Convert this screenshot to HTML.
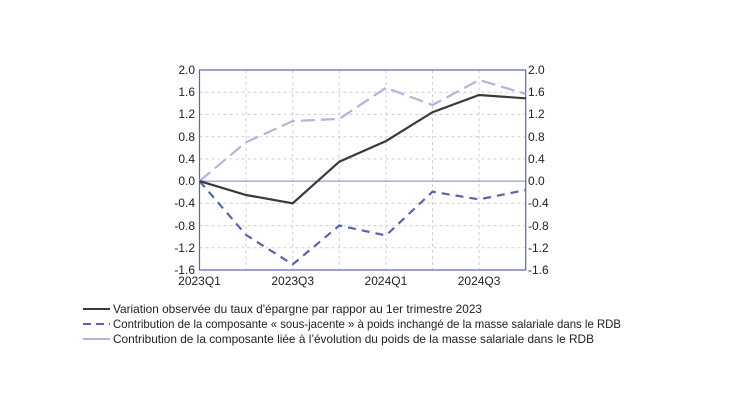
<!DOCTYPE html>
<html><head><meta charset="utf-8"><style>
html,body{margin:0;padding:0;background:#fff;}
svg{display:block;font-family:"Liberation Sans",Arial,sans-serif;}
</style></head><body>
<svg width="730" height="410" viewBox="0 0 730 410" xmlns="http://www.w3.org/2000/svg">
<g stroke="#d0d0d0" stroke-width="1" stroke-dasharray="3,3">
<line x1="199.5" x2="525.7" y1="92.2" y2="92.2"/>
<line x1="199.5" x2="525.7" y1="114.4" y2="114.4"/>
<line x1="199.5" x2="525.7" y1="136.7" y2="136.7"/>
<line x1="199.5" x2="525.7" y1="158.9" y2="158.9"/>
<line x1="199.5" x2="525.7" y1="203.3" y2="203.3"/>
<line x1="199.5" x2="525.7" y1="225.6" y2="225.6"/>
<line x1="199.5" x2="525.7" y1="247.8" y2="247.8"/>
<line x1="246.1" x2="246.1" y1="70" y2="270"/>
<line x1="292.7" x2="292.7" y1="70" y2="270"/>
<line x1="339.3" x2="339.3" y1="70" y2="270"/>
<line x1="385.9" x2="385.9" y1="70" y2="270"/>
<line x1="432.5" x2="432.5" y1="70" y2="270"/>
<line x1="479.1" x2="479.1" y1="70" y2="270"/>
</g>
<line x1="199.5" x2="525.7" y1="181.1" y2="181.1" stroke="#8088c0" stroke-width="1"/>
<rect x="199.5" y="70" width="326.2" height="200" fill="none" stroke="#5a64b0" stroke-width="1.2"/>
<g font-size="12" fill="#222" text-anchor="end">
<text x="195" y="74">2.0</text><text x="195" y="96">1.6</text><text x="195" y="118">1.2</text>
<text x="195" y="141">0.8</text><text x="195" y="163">0.4</text><text x="195" y="185">0.0</text>
<text x="195" y="207">-0.4</text><text x="195" y="230">-0.8</text><text x="195" y="252">-1.2</text>
<text x="195" y="274">-1.6</text>
</g>
<g font-size="12" fill="#222" text-anchor="start">
<text x="528" y="74">2.0</text><text x="528" y="96">1.6</text><text x="528" y="118">1.2</text>
<text x="528" y="141">0.8</text><text x="528" y="163">0.4</text><text x="528" y="185">0.0</text>
<text x="528" y="207">-0.4</text><text x="528" y="230">-0.8</text><text x="528" y="252">-1.2</text>
<text x="528" y="274">-1.6</text>
</g>
<g font-size="12" fill="#222" text-anchor="middle">
<text x="199.5" y="285">2023Q1</text><text x="292.7" y="285">2023Q3</text>
<text x="385.9" y="285">2024Q1</text><text x="479.1" y="285">2024Q3</text>
</g>
<polyline fill="none" stroke="#b4b4dc" stroke-width="2.2" stroke-dasharray="14,6"
 points="199.5,181.1 246.1,142.2 292.7,121.1 339.3,118.9 385.9,87.8 432.5,105.0 479.1,80.0 525.7,93.9"/>
<polyline fill="none" stroke="#5a64b0" stroke-width="2.2" stroke-dasharray="8,6"
 points="199.5,181.1 246.1,235.0 292.7,264.4 339.3,225.5 385.9,235.5 432.5,191.7 479.1,199.4 525.7,190.0"/>
<polyline fill="none" stroke="#3a3a3a" stroke-width="2.2"
 points="199.5,181.1 246.1,195.0 292.7,203.3 339.3,161.7 385.9,141.1 432.5,112.2 479.1,95.0 525.7,98.3"/>
<line x1="83" x2="110" y1="309" y2="309" stroke="#3a3a3a" stroke-width="2"/>
<line x1="83" x2="110" y1="324" y2="324" stroke="#5a64b0" stroke-width="2" stroke-dasharray="8,5"/>
<line x1="83" x2="110" y1="339" y2="339" stroke="#b4b4dc" stroke-width="2"/>
<g font-size="12" fill="#222">
<text x="113" y="313" textLength="369" lengthAdjust="spacingAndGlyphs">Variation observée du taux d'épargne par rappor au 1er trimestre 2023</text>
<text x="113" y="328" textLength="508" lengthAdjust="spacingAndGlyphs">Contribution de la composante « sous-jacente » à poids inchangé de la masse salariale dans le RDB</text>
<text x="113" y="343" textLength="481" lengthAdjust="spacingAndGlyphs">Contribution de la composante liée à l’évolution du poids de la masse salariale dans le RDB</text>
</g>
</svg>
</body></html>
